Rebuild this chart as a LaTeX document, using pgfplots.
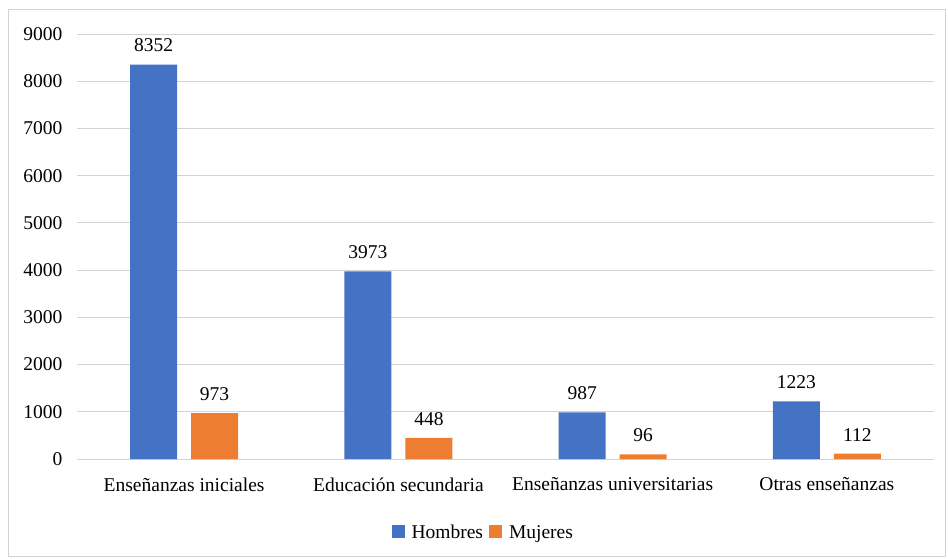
\documentclass[border=0pt]{standalone}
\usepackage{fontspec}
\setmainfont{Liberation Serif}
\usepackage{pgfplots}
\pgfplotsset{compat=1.18}
\definecolor{cblue}{HTML}{4472C4}
\definecolor{corange}{HTML}{ED7D31}
\newcommand{\cf}{\fontsize{19.5}{23}\selectfont}
\begin{document}
\begin{tikzpicture}[x=1pt,y=1pt]
\useasboundingbox (0,0) rectangle (948,558);
\draw[gray!35, line width=1pt] (8,2) rectangle (945,548);
\begin{axis}[
  at={(77pt,99pt)}, anchor=south west,
  scale only axis, width=857pt, height=425pt,
  ybar=14pt, bar width=47pt,
  xmin=-0.5, xmax=3.5, ymin=0, ymax=9000,
  xtick={0,1,2,3},
  xticklabels={Enseñanzas iniciales, Educación secundaria, Enseñanzas universitarias, Otras enseñanzas},
  ytick={0,1000,...,9000},
  ymajorgrids, grid style={draw=gray!35, line width=0.9pt},
  axis line style={draw=none},
  major tick length=0pt,
  /pgf/number format/assume math mode=true,
  /pgf/number format/1000 sep={},
  tick label style={font=\cf},
  yticklabel style={xshift=-11pt},
  xticklabel style={yshift=-15pt},
  nodes near coords,
  every node near coord/.append style={font=\cf, yshift=9pt, /pgf/number format/1000 sep={}},
  legend style={at={(0.474,-0.174)}, anchor=center, draw=none, font=\cf, legend columns=2,
    /tikz/every even column/.append style={column sep=4pt}},
  legend image code/.code={\fill[#1] (0pt,-5pt) rectangle (13pt,8pt); \path (18pt,0pt);},
]
\addplot[fill=cblue, draw=none] coordinates {(0,8352) (1,3973) (2,987) (3,1223)};
\addplot[fill=corange, draw=none] coordinates {(0,973) (1,448) (2,96) (3,112)};
\legend{Hombres, Mujeres}
\end{axis}
\end{tikzpicture}
\end{document}
